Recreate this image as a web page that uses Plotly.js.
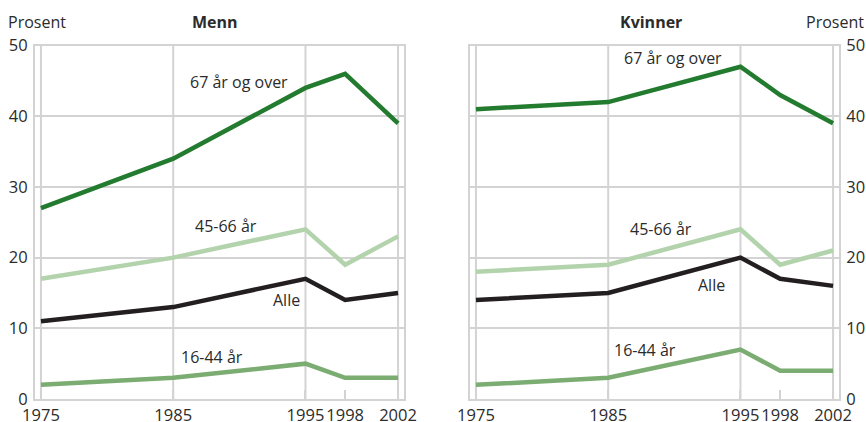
<!DOCTYPE html>
<html>
<head>
<meta charset="utf-8">
<script src="https://cdn.plot.ly/plotly-3.0.1.min.js"></script>
<style>
html,body{margin:0;padding:0;background:#fff;}
#chart{width:866px;height:422px;}
</style>
</head>
<body>
<div id="chart"></div>
<script>
// ---- data ----
const years = [1975, 1985, 1995, 1998, 2002];
const tickYears = [1975, 1985, 1995, 1998, 2002];
const gridYears = [1975, 1985, 1995, 2002];
const yTicks = [0, 10, 20, 30, 40, 50];

const seriesNames = ["67 år og over", "45-66 år", "Alle", "16-44 år"];
const menn67 = [27, 34, 44, 46, 39];
const menn4566 = [17, 20, 24, 19, 23];
const mennAlle = [11, 13, 17, 14, 15];
const menn1644 = [2, 3, 5, 3, 3];

const kvinner67 = [41, 42, 47, 43, 39];
const kvinner4566 = [18, 19, 24, 19, 21];
const kvinnerAlle = [14, 15, 20, 17, 16];
const kvinner1644 = [2, 3, 7, 4, 4];

// label anchor positions (data coords) for the series labels
const mennLabelX = [1990.0, 1989.0, 1993.6, 1987.9];
const mennLabelY = [44.8, 24.5, 14.0, 6.0];
const kvinnerLabelX = [1989.9, 1989.0, 1992.8, 1987.8];
const kvinnerLabelY = [48.2, 24.0, 16.1, 7.0];

const panelTitles = ["Menn", "Kvinner"];
const yUnit = "Prosent";

// ---- styles ----
const colors = ["#237b2f", "#b3d3ad", "#231f20", "#7bac71"];
const gridColor = "#d3d3d3";
const textColor = "#2b2b2b";
const FONT = "Open Sans, Liberation Sans, sans-serif";

const mennSeries = [menn67, menn4566, mennAlle, menn1644];
const kvinnerSeries = [kvinner67, kvinner4566, kvinnerAlle, kvinner1644];

const traces = [];
mennSeries.forEach((s, i) => traces.push({
  x: years, y: s, type: "scatter", mode: "lines", name: seriesNames[i],
  xaxis: "x", yaxis: "y",
  line: {color: colors[i], width: 4.5}, hoverinfo: "skip"
}));
kvinnerSeries.forEach((s, i) => traces.push({
  x: years, y: s, type: "scatter", mode: "lines", name: seriesNames[i],
  xaxis: "x2", yaxis: "y2",
  line: {color: colors[i], width: 4.5}, hoverinfo: "skip"
}));

function xax(domain, anchor) {
  return {
    domain: domain, anchor: anchor, range: [1974.55, 2002.45],
    tickmode: "array", tickvals: tickYears, ticktext: tickYears.map(String),
    tickangle: 0, showgrid: false, zeroline: false,
    ticks: "inside", ticklen: 9, tickwidth: 2, tickcolor: gridColor,
    showline: true, mirror: true, linecolor: gridColor, linewidth: 2,
    tickfont: {family: FONT, size: 16.5, color: textColor}, fixedrange: true
  };
}
function yax(domain, anchor, side) {
  return {
    domain: domain, anchor: anchor, side: side, range: [0, 50],
    tickmode: "array", tickvals: yTicks, ticktext: yTicks.map(String),
    showgrid: true, gridcolor: gridColor, gridwidth: 2, zeroline: false,
    ticks: "", showline: true, mirror: true, linecolor: gridColor, linewidth: 2,
    tickfont: {family: FONT, size: 16.5, color: textColor}, fixedrange: true,
    ticklabelstandoff: 2
  };
}

const yDom = [1 - 399 / 422, 1 - 45.5 / 422];
const leftDom = [35 / 866, 404 / 866];
const rightDom = [470 / 866, 839 / 866];

const shapes = [];
gridYears.forEach(g => {
  ["x", "x2"].forEach((xr, k) => shapes.push({
    type: "line", xref: xr, yref: (k === 0 ? "y domain" : "y2 domain"),
    x0: g, x1: g, y0: 0, y1: 1, layer: "below",
    line: {color: gridColor, width: 2}
  }));
});

const annotations = [];
seriesNames.forEach((n, i) => {
  annotations.push({xref: "x", yref: "y", x: mennLabelX[i], y: mennLabelY[i],
    text: n, showarrow: false, font: {family: FONT, size: 16, color: textColor}});
  annotations.push({xref: "x2", yref: "y2", x: kvinnerLabelX[i], y: kvinnerLabelY[i],
    text: n, showarrow: false, font: {family: FONT, size: 16, color: textColor}});
});
annotations.push({xref: "paper", yref: "paper", x: 215 / 866, y: 1 - 22 / 422,
  text: "<b>" + panelTitles[0] + "</b>", showarrow: false, xanchor: "center", yanchor: "middle",
  font: {family: FONT, size: 16, color: textColor}});
annotations.push({xref: "paper", yref: "paper", x: 650.5 / 866, y: 1 - 22 / 422,
  text: "<b>" + panelTitles[1] + "</b>", showarrow: false, xanchor: "center", yanchor: "middle",
  font: {family: FONT, size: 16, color: textColor}});
annotations.push({xref: "paper", yref: "paper", x: 6 / 866, y: 1 - 22 / 422,
  text: yUnit, showarrow: false, xanchor: "left", yanchor: "middle",
  font: {family: FONT, size: 16, color: textColor}});
annotations.push({xref: "paper", yref: "paper", x: 866 / 866, y: 1 - 22 / 422,
  text: yUnit, showarrow: false, xanchor: "right", yanchor: "middle",
  font: {family: FONT, size: 16, color: textColor}});

const layout = {
  width: 866, height: 422,
  margin: {l: 0, r: 0, t: 0, b: 0},
  paper_bgcolor: "#fff", plot_bgcolor: "#fff",
  showlegend: false,
  xaxis: xax(leftDom, "y"),
  yaxis: yax(yDom, "x", "left"),
  xaxis2: xax(rightDom, "y2"),
  yaxis2: yax(yDom, "x2", "right"),
  shapes: shapes,
  annotations: annotations
};

Plotly.newPlot("chart", traces, layout, {staticPlot: true});
</script>
</body>
</html>
